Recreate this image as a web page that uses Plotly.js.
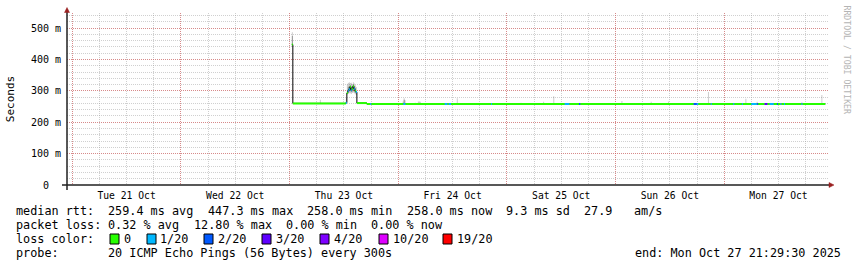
<!DOCTYPE html>
<html><head><meta charset="utf-8">
<script src="https://cdn.plot.ly/plotly-3.0.1.min.js"></script>
<style>html,body{margin:0;padding:0;background:#fff;} #chart{width:857px;height:267px;}</style>
</head><body><div id="chart"></div>
<script>
// ---------- data ----------
const lossLabels = ['0', '1/20', '2/20', '3/20', '4/20', '10/20', '19/20'];
const lossColors = ['#26ff00', '#00b8ff', '#0059ff', '#5e00ff', '#7e00ff', '#dd00ff', '#ff0000'];

const dayStarts = ['2025-10-21', '2025-10-22', '2025-10-23', '2025-10-24', '2025-10-25', '2025-10-26', '2025-10-27'];
const dayNoons = ['2025-10-21 12:00', '2025-10-22 12:00', '2025-10-23 12:00', '2025-10-24 12:00', '2025-10-25 12:00', '2025-10-26 12:00', '2025-10-27 12:00'];
const dayLabels = ['Tue 21 Oct', 'Wed 22 Oct', 'Thu 23 Oct', 'Fri 24 Oct', 'Sat 25 Oct', 'Sun 26 Oct', 'Mon 27 Oct'];
const xRange = ['2025-10-20 22:50', '2025-10-27 22:56'];

const yTickVals = [0, 100, 200, 300, 400, 500];
const yTickText = ['\u00a0\u00a00\u00a0\u00a0', '100 m', '200 m', '300 m', '400 m', '500 m'];

// median rtt (ms), step series; loss = index into lossLabels
const medTime = [
  '2025-10-23 00:30', '2025-10-23 00:43', '2025-10-23 12:26', '2025-10-23 12:39', '2025-10-23 12:52',
  '2025-10-23 13:05', '2025-10-23 13:19', '2025-10-23 13:32', '2025-10-23 13:45', '2025-10-23 13:59',
  '2025-10-23 14:12', '2025-10-23 14:25', '2025-10-23 14:38', '2025-10-23 14:52', '2025-10-23 17:04',
  '2025-10-23 17:49', '2025-10-23 18:02', '2025-10-24 01:08', '2025-10-24 01:34', '2025-10-24 10:17',
  '2025-10-24 10:50', '2025-10-24 11:10', '2025-10-24 11:40', '2025-10-24 20:30', '2025-10-24 20:43',
  '2025-10-25 12:47', '2025-10-25 13:47', '2025-10-25 15:56', '2025-10-25 16:12', '2025-10-26 17:16',
  '2025-10-26 17:56', '2025-10-26 18:16', '2025-10-26 21:02', '2025-10-26 21:15', '2025-10-27 02:00',
  '2025-10-27 02:13', '2025-10-27 03:55', '2025-10-27 04:08', '2025-10-27 06:00', '2025-10-27 07:10',
  '2025-10-27 07:17', '2025-10-27 07:30', '2025-10-27 08:56', '2025-10-27 09:32', '2025-10-27 10:03',
  '2025-10-27 10:55', '2025-10-27 11:40', '2025-10-27 11:53', '2025-10-27 12:25', '2025-10-27 12:38',
  '2025-10-27 13:13', '2025-10-27 13:26', '2025-10-27 17:04', '2025-10-27 17:17', '2025-10-27 22:20'
];
const medValue = [
  447.3, 260, 262, 293, 300,
  305, 313, 302, 306, 315,
  307, 300, 296, 261, 258,
  258, 258, 258, 258, 258,
  258, 258, 258, 258, 258,
  258, 258, 258, 258, 258,
  258, 258, 258, 258, 258,
  258, 258, 258, 258, 258,
  258, 258, 258, 258, 258,
  258, 258, 258, 258, 258,
  258, 258, 258, 258, 258
];
const medLoss = [
  0, 0, 1, 0, 1,
  1, 0, 1, 0, 0,
  1, 0, 1, 0, 0,
  1, 0, 1, 0, 1,
  0, 1, 0, 1, 0,
  1, 0, 2, 0, 2,
  1, 0, 1, 0, 1,
  0, 1, 0, 1, 0,
  2, 0, 3, 0, 1,
  0, 2, 0, 1, 0,
  1, 0, 1, 0, 0
];

// smoke (spread of the 20 pings), ms
const smokeTime = [
  '2025-10-23 00:30', '2025-10-23 06:41', '2025-10-23 12:26', '2025-10-23 12:39', '2025-10-23 12:52',
  '2025-10-23 13:05', '2025-10-23 13:19', '2025-10-23 13:32', '2025-10-23 13:45', '2025-10-23 13:59',
  '2025-10-23 14:12', '2025-10-23 14:25', '2025-10-23 14:38', '2025-10-24 00:58', '2025-10-24 01:12',
  '2025-10-24 01:25', '2025-10-24 03:40', '2025-10-24 04:20', '2025-10-24 04:33', '2025-10-24 04:46',
  '2025-10-24 12:56', '2025-10-25 03:01', '2025-10-25 08:00', '2025-10-25 10:15', '2025-10-26 01:18',
  '2025-10-26 07:46', '2025-10-26 11:35', '2025-10-26 20:25', '2025-10-27 04:41', '2025-10-27 07:10',
  '2025-10-27 17:04', '2025-10-27 21:28'
];
const smokeLow = [
  440, 259, 262, 288, 290,
  292, 292, 290, 293, 295,
  292, 289, 287, 258, 258,
  258, 258, 258, 258, 258,
  258, 258, 258, 258, 258,
  258, 258, 258, 258, 258,
  258, 258
];
const smokeHigh = [
  487, 272, 276, 320, 325,
  327, 325, 326, 322, 327,
  323, 318, 312, 266, 276,
  270, 262, 266, 266, 265,
  276, 262, 265, 283, 268,
  265, 266, 296, 275, 265,
  264, 287
];
const coreTime = [
  '2025-10-23 00:30', '2025-10-23 12:52', '2025-10-23 13:05', '2025-10-23 13:19', '2025-10-23 13:32',
  '2025-10-23 13:45', '2025-10-23 13:59', '2025-10-23 14:12', '2025-10-23 14:25', '2025-10-24 01:12'
];
const coreLow = [447, 296, 298, 300, 296, 298, 302, 298, 294, 258];
const coreHigh = [475, 312, 315, 318, 312, 315, 320, 314, 308, 272];

// legend texts
const rttStats = ['259.4 ms avg', '447.3 ms max', '258.0 ms min', '258.0 ms now', '9.3 ms sd', '27.9', 'am/s'];
const lossStats = ['0.32 % avg', '12.80 % max', '0.00 % min', '0.00 % now'];
const probeText = '20 ICMP Echo Pings (56 Bytes) every 300s';
const endText = 'end: Mon Oct 27 21:29:30 2025';

// ---------- layout helpers (pixel -> paper) ----------
const L = 67, R = 828, T = 13, B = 185;
const px = x => (x - L) / (R - L);
const py = y => (B - y) / (B - T);
const colMs = 13.26 * 60000; // one consolidated column

const mono = 'DejaVu Sans Mono';
const traces = [];

traces.push({
  type: 'bar', x: smokeTime, base: smokeLow, y: smokeHigh.map((h, i) => h - smokeLow[i]),
  width: colMs, offset: 0, marker: {color: 'rgba(0,0,0,0.2)', line: {width: 0}},
  hoverinfo: 'skip', showlegend: false
});
traces.push({
  type: 'bar', x: coreTime, base: coreLow, y: coreHigh.map((h, i) => h - coreLow[i]),
  width: colMs, offset: 0, marker: {color: 'rgba(0,0,0,0.3)', line: {width: 0}},
  hoverinfo: 'skip', showlegend: false
});
// black step line
traces.push({
  type: 'scatter', mode: 'lines', x: medTime, y: medValue,
  line: {color: '#000', width: 1, shape: 'hv'}, hoverinfo: 'skip', showlegend: false
});
// loss-coloured median segments
lossColors.forEach((c, li) => {
  const xs = [], ys = [];
  for (let i = 0; i < medTime.length - 1; i++) {
    if (medLoss[i] !== li) continue;
    xs.push(medTime[i], medTime[i + 1], null);
    ys.push(medValue[i], medValue[i], null);
  }
  if (xs.length) traces.push({
    type: 'scatter', mode: 'lines', x: xs, y: ys, connectgaps: false,
    line: {color: c, width: 2}, hoverinfo: 'skip', showlegend: false
  });
});
// invisible trace so the label axis is drawn
traces.push({type: 'scatter', mode: 'markers', x: [dayNoons[0]], y: [0], xaxis: 'x2',
  marker: {opacity: 0}, hoverinfo: 'skip', showlegend: false});

const majorGrid = 'rgba(220,80,80,0.55)';
const minorGrid = 'rgba(150,150,150,0.45)';
const dash = '1px,1px';

const annotations = [];
const pitch = 7.1;              // monospace column width in the legend
const col = c => 16 + c * pitch;
const addText = (text, x, y, opts = {}) => annotations.push(Object.assign({
  text, x: px(x), y: py(y), xref: 'paper', yref: 'paper', xanchor: 'left', yanchor: 'middle',
  showarrow: false, borderpad: 0, borderwidth: 0, font: {family: mono, size: 11.8, color: '#000'}
}, opts));

const rowY = [211, 225, 239, 253];
addText('median rtt:', col(0), rowY[0]);
[13, 27, 41, 55, 69, 80, 87].forEach((c, i) => addText(rttStats[i], col(c), rowY[0]));
addText('packet loss:', col(0), rowY[1]);
[13, 25, 38, 50].forEach((c, i) => addText(lossStats[i], col(c), rowY[1]));
addText('loss color:', col(0), rowY[2]);
const sqX = [110, 147, 204, 262, 320, 379, 443];
const lblX = [124, 160, 218, 276, 334, 393, 457];
lossLabels.forEach((l, i) => addText(l, lblX[i], rowY[2]));
addText('probe:', col(0), rowY[3]);
addText(probeText, col(13), rowY[3]);
addText(endText, 841, rowY[3], {xanchor: 'right'});
addText('RRDTOOL / TOBI OETIKER', 847, 59.5, {xanchor: 'center', textangle: 90,
  font: {family: mono, size: 8.2, color: '#b4b4b4'}});

const shapes = [];
lossColors.forEach((c, i) => shapes.push({type: 'rect', xref: 'paper', yref: 'paper',
  x0: px(sqX[i]), x1: px(sqX[i] + 9), y0: py(234), y1: py(244),
  fillcolor: c, line: {color: '#000', width: 1}}));
const axisCol = '#202020';
shapes.push({type: 'line', xref: 'paper', yref: 'paper', x0: px(62), x1: px(830), y0: 0, y1: 0,
  line: {color: axisCol, width: 1.5}, layer: 'above'});
shapes.push({type: 'line', xref: 'paper', yref: 'paper', x0: 0, x1: 0, y0: py(190), y1: py(10),
  line: {color: axisCol, width: 1.5}, layer: 'above'});
const arrowCol = '#9a2020';
shapes.push({type: 'path', xref: 'paper', yref: 'paper', layer: 'above',
  path: `M ${px(64.5)},${py(12.5)} L ${px(67)},${py(7.5)} L ${px(69.5)},${py(12.5)} Z`,
  fillcolor: arrowCol, line: {color: arrowCol, width: 0.5}});
shapes.push({type: 'path', xref: 'paper', yref: 'paper', layer: 'above',
  path: `M ${px(829)},${py(182.5)} L ${px(834)},${py(185)} L ${px(829)},${py(187.5)} Z`,
  fillcolor: arrowCol, line: {color: arrowCol, width: 0.5}});

const layout = {
  width: 857, height: 267,
  margin: {l: L, r: 857 - R, t: T, b: 267 - B, pad: 0},
  paper_bgcolor: '#fff', plot_bgcolor: '#fff',
  showlegend: false, barmode: 'overlay', hovermode: false,
  font: {family: mono, size: 10, color: '#000'},
  xaxis: {
    type: 'date', range: xRange, tickmode: 'array', tickvals: dayStarts,
    ticktext: dayStarts.map(() => ''), showgrid: true, gridcolor: majorGrid, griddash: dash, gridwidth: 1,
    minor: {tickmode: 'linear', tick0: '2025-10-21', dtick: 6 * 3600000, showgrid: true,
      gridcolor: minorGrid, griddash: dash, gridwidth: 1, ticks: ''},
    zeroline: false, showline: false, ticks: '', automargin: false, fixedrange: true
  },
  xaxis2: {
    type: 'date', overlaying: 'x', anchor: 'y', side: 'bottom', range: xRange,
    tickmode: 'array', tickvals: dayNoons, ticktext: dayLabels, showgrid: false,
    zeroline: false, showline: false, ticks: '', automargin: false,
    tickfont: {family: mono, size: 9.7, color: '#000'}, ticklabelstandoff: 3
  },
  yaxis: {
    range: [0, 548], tickmode: 'array', tickvals: yTickVals, ticktext: yTickText,
    showgrid: true, gridcolor: majorGrid, griddash: dash, gridwidth: 1,
    minor: {tickmode: 'linear', tick0: 0, dtick: 20, showgrid: true, gridcolor: minorGrid,
      griddash: dash, gridwidth: 1, ticks: ''},
    zeroline: false, showline: false, ticks: '', automargin: false,
    tickfont: {family: mono, size: 10, color: '#000'}, ticklabelstandoff: 5,
    title: {text: 'Seconds', font: {family: mono, size: 11, color: '#000'}, standoff: 14}
  },
  annotations, shapes
};

Plotly.newPlot('chart', traces, layout, {staticPlot: true, displayModeBar: false});
</script>
</body></html>
